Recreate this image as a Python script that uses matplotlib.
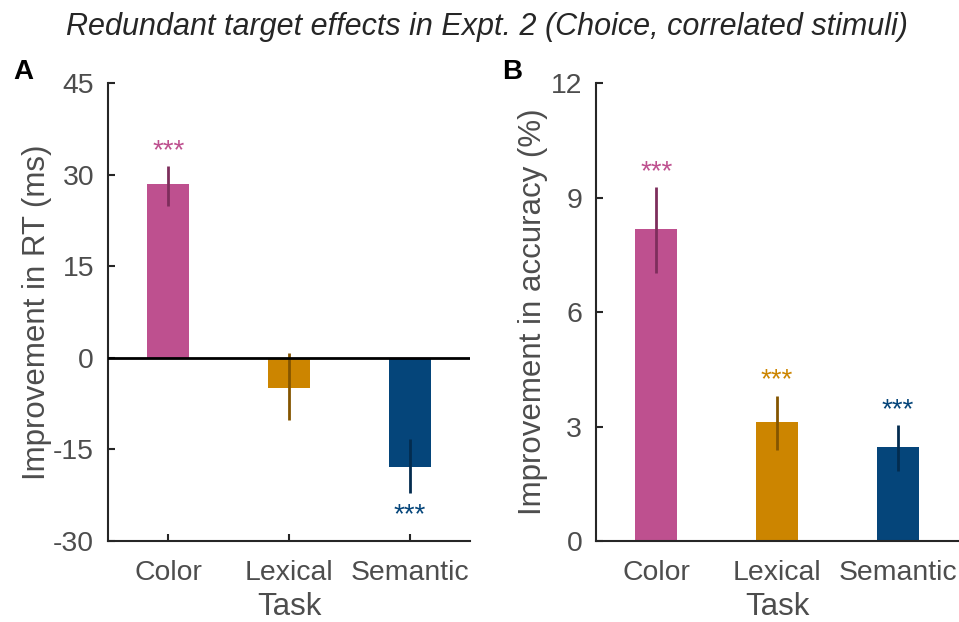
import numpy as np
import matplotlib
matplotlib.use("Agg")
import matplotlib.pyplot as plt

plt.rcParams['font.family'] = ['Liberation Sans', 'DejaVu Sans']
plt.rcParams['axes.unicode_minus'] = False

tasks = ['Color', 'Lexical', 'Semantic']
colors = ['#BE508F', '#CC8500', '#05457A']
err_colors = ['#7D2E5C', '#845500', '#032C4F']

# RT improvement (ms): mean, lower and upper error
rt_mean = [28.5, -4.9, -17.9]
rt_lo = [3.6, 5.3, 4.3]
rt_hi = [2.9, 5.7, 4.6]
rt_sig = ['***', '', '***']

# accuracy improvement (%)
acc_mean = [8.17, 3.12, 2.46]
acc_lo = [1.16, 0.74, 0.63]
acc_hi = [1.10, 0.68, 0.57]
acc_sig = ['***', '***', '***']

gray = '#4D4D4D'
dark = '#262626'

fig = plt.figure(figsize=(9.59, 6.22), dpi=100)
axA = fig.add_axes([0.1126, 0.1302, 0.3775, 0.7363])
axB = fig.add_axes([0.6215, 0.1302, 0.3775, 0.7363])


def draw(ax, mean, lo, hi, sig, ylim, yticks, ylabel, label_x):
    x = np.arange(1, len(tasks) + 1)
    ax.bar(x, mean, width=0.35, color=colors, zorder=2)
    for i in range(len(x)):
        ax.plot([x[i], x[i]], [mean[i] - lo[i], mean[i] + hi[i]],
                color=err_colors[i], lw=2, zorder=3, solid_capstyle='butt')
        if sig[i]:
            if mean[i] >= 0:
                ax.annotate(sig[i], (x[i], mean[i] + hi[i]), xytext=(0, 6),
                            textcoords='offset points', ha='center', va='baseline',
                            color=colors[i], fontsize=20)
            else:
                ax.annotate(sig[i], (x[i], mean[i] - lo[i]), xytext=(0, -21),
                            textcoords='offset points', ha='center', va='baseline',
                            color=colors[i], fontsize=20)
    ax.set_xlim(0.5, 3.5)
    ax.set_ylim(*ylim)
    ax.set_yticks(yticks)
    ax.set_xticks(x)
    ax.set_xticklabels(tasks)
    ax.set_ylabel(ylabel, fontsize=22.5, color=gray)
    ax.yaxis.set_label_coords(label_x, 0.5)
    ax.set_xlabel('Task', fontsize=22.5, color=gray, labelpad=4)
    ax.tick_params(direction='in', length=5, width=1.5, colors=dark,
                   labelcolor=gray, labelsize=20.4)
    ax.tick_params(axis='y', pad=10)
    ax.tick_params(axis='x', pad=14)
    for s in ['top', 'right']:
        ax.spines[s].set_visible(False)
    for s in ['left', 'bottom']:
        ax.spines[s].set_linewidth(1.5)
        ax.spines[s].set_color(dark)


draw(axA, rt_mean, rt_lo, rt_hi, rt_sig, (-30, 45), [-30, -15, 0, 15, 30, 45],
     'Improvement in RT (ms)', -0.155)
axA.axhline(0, color='black', lw=2, zorder=4)

draw(axB, acc_mean, acc_lo, acc_hi, acc_sig, (0, 12), [0, 3, 6, 9, 12],
     'Improvement in accuracy (%)', -0.133)

fig.text(0.508, 0.957, 'Redundant target effects in Expt. 2 (Choice, correlated stimuli)',
         ha='center', va='center', fontsize=22, style='italic', color=dark)
fig.text(0.014, 0.885, 'A', fontsize=20, fontweight='bold', ha='left', va='center')
fig.text(0.524, 0.885, 'B', fontsize=20, fontweight='bold', ha='left', va='center')

fig.savefig('out.png', dpi=100)
